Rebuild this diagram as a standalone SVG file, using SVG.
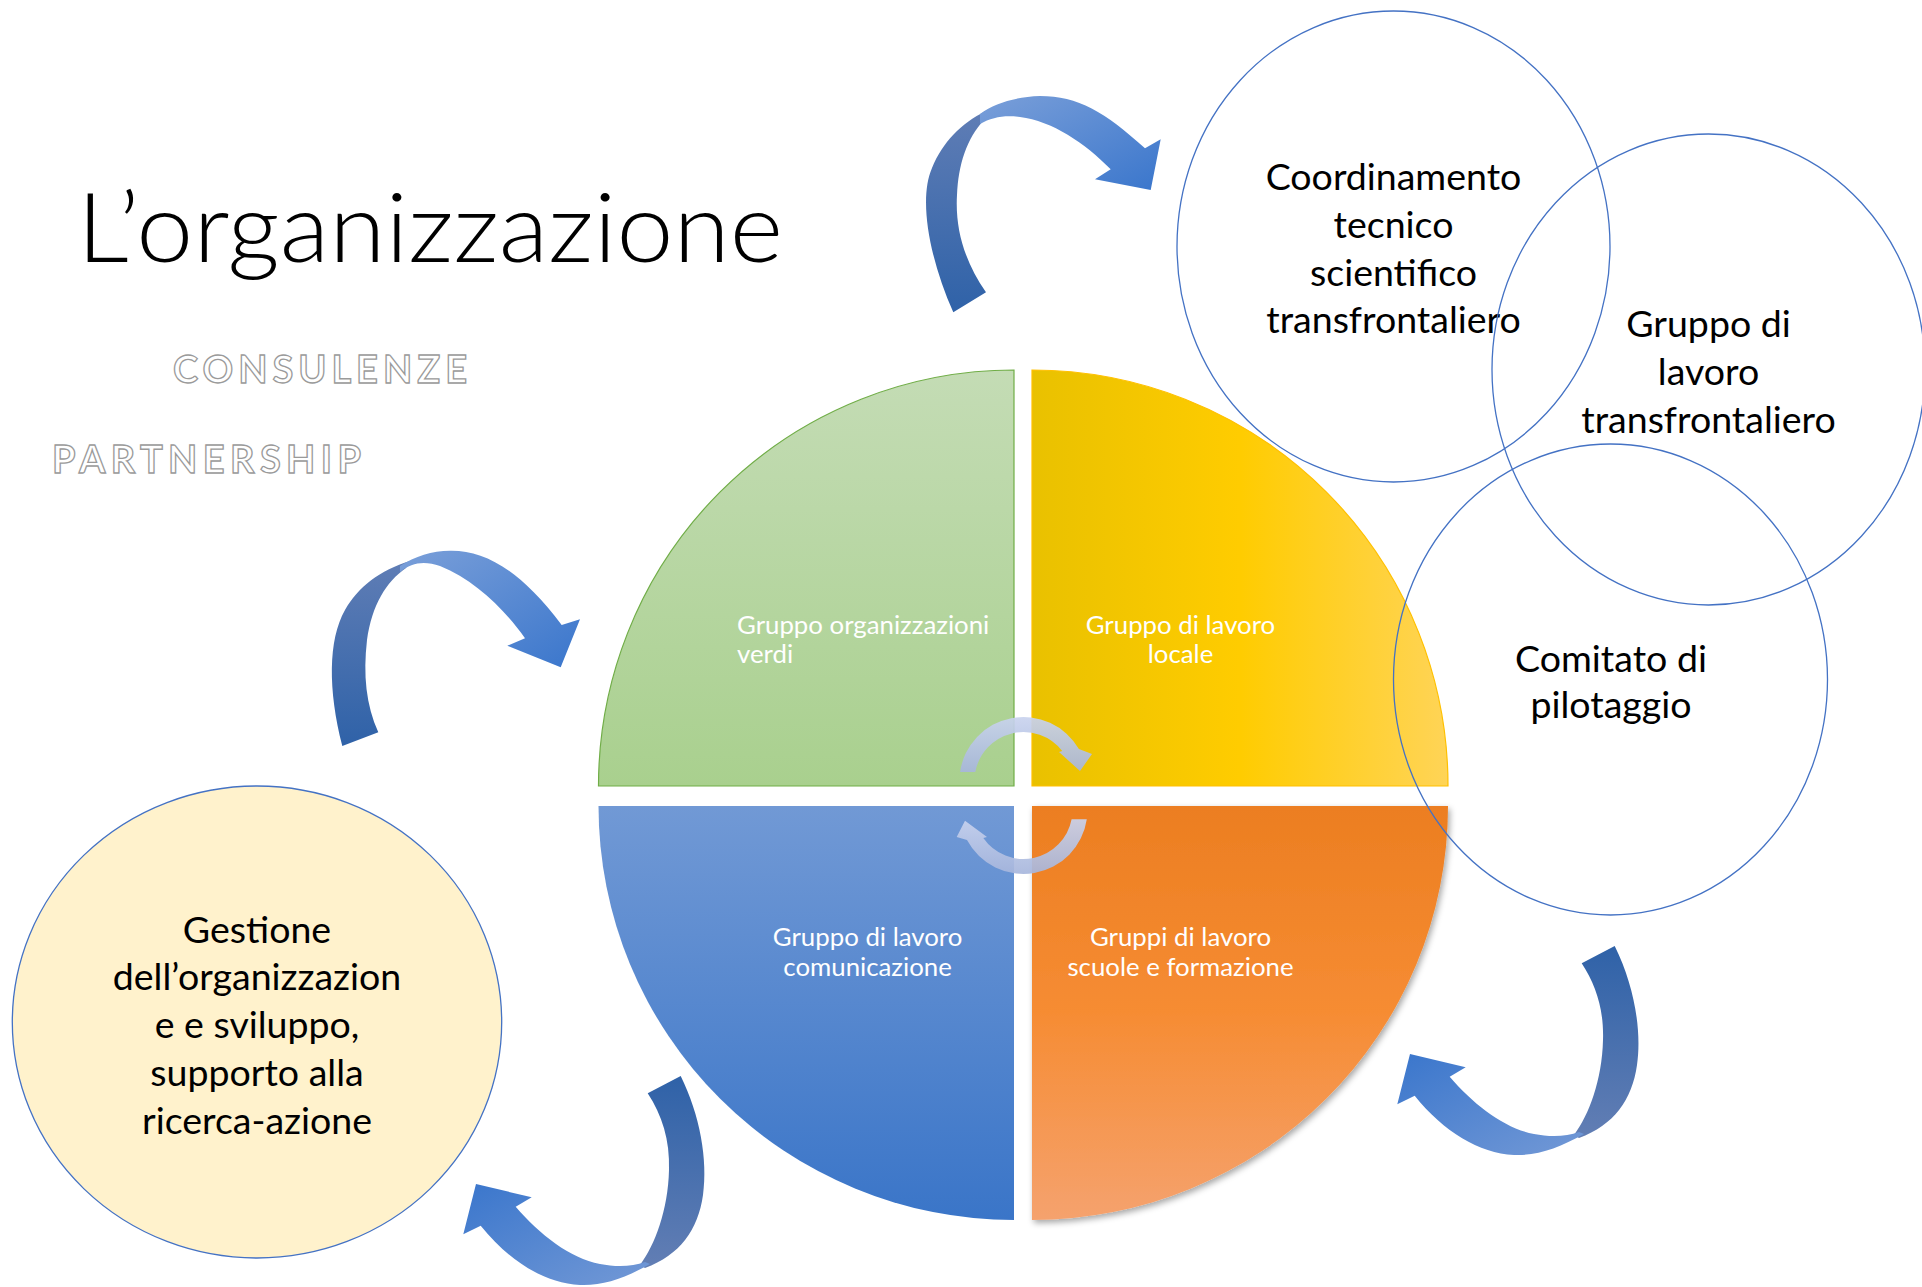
<svg xmlns="http://www.w3.org/2000/svg" width="1922" height="1287" viewBox="0 0 1922 1287">
<defs>
<style>
.t{font-family:Lato,"Open Sans","Liberation Sans",sans-serif;fill:#000;}
.big{font-size:37.5px;text-anchor:middle;}
.q{font-family:Lato,"Open Sans","Liberation Sans",sans-serif;font-size:25.8px;fill:#fff;}
.ring{fill:none;stroke:#4472C4;stroke-width:1.3;}
.emb{font-family:Lato,"Open Sans","Liberation Sans",sans-serif;font-weight:bold;fill:#fff;stroke:#9a9a9a;stroke-width:1.3;font-size:38px;}
</style>
<linearGradient id="gGreen" x1="0" y1="0" x2="0" y2="1"><stop offset="0" stop-color="#C4DCB5"/><stop offset="1" stop-color="#A9D08E"/></linearGradient>
<linearGradient id="gYellow" x1="0" y1="0" x2="1" y2="0"><stop offset="0" stop-color="#E9C100"/><stop offset="0.5" stop-color="#FFCC00"/><stop offset="1" stop-color="#FFD457"/></linearGradient>
<linearGradient id="gBlue" x1="0" y1="0" x2="0" y2="1"><stop offset="0" stop-color="#7199D5"/><stop offset="1" stop-color="#3A75C8"/></linearGradient>
<linearGradient id="gOrange" x1="0" y1="0" x2="0" y2="1"><stop offset="0" stop-color="#EC7E21"/><stop offset="0.5" stop-color="#F68C33"/><stop offset="1" stop-color="#F5A26E"/></linearGradient>
<linearGradient id="gBackUp" x1="0" y1="1" x2="0" y2="0"><stop offset="0" stop-color="#2F62A8"/><stop offset="1" stop-color="#5F7DB5"/></linearGradient>
<linearGradient id="gBackDown" x1="0" y1="0" x2="0" y2="1"><stop offset="0" stop-color="#2F62A8"/><stop offset="1" stop-color="#627EB4"/></linearGradient>
<linearGradient id="gFront1" x1="0" y1="0" x2="1" y2="1"><stop offset="0" stop-color="#7A9FD9"/><stop offset="1" stop-color="#3A76CC"/></linearGradient>
<linearGradient id="gFront2" x1="1" y1="1" x2="0" y2="0"><stop offset="0" stop-color="#7399D6"/><stop offset="1" stop-color="#3A76CC"/></linearGradient>
<linearGradient id="gSmall" x1="0" y1="0" x2="0" y2="1"><stop offset="0" stop-color="#C9D3EE"/><stop offset="1" stop-color="#A7B6DC"/></linearGradient>
<filter id="shadow" x="-10%" y="-10%" width="125%" height="125%"><feDropShadow dx="2" dy="3" stdDeviation="3" flood-color="#000" flood-opacity="0.35"/></filter>
</defs>
<rect width="1922" height="1287" fill="#fff"/>

<g id="title">
<text class="t" x="77" y="262" font-size="96" font-weight="300" textLength="706" lengthAdjust="spacingAndGlyphs">L’organizzazione</text>
</g>
<g id="consulenze"><text class="emb" x="173" y="383" textLength="294" lengthAdjust="spacing">CONSULENZE</text></g>
<g id="partnership"><text class="emb" x="52" y="473" textLength="309" lengthAdjust="spacing">PARTNERSHIP</text></g>

<g id="q-verdi">
<path d="M1014,786 L598.5,786 A415.5,416 0 0 1 1014,370 Z" fill="url(#gGreen)" stroke="#70AD47" stroke-width="1.2"/>
<text class="q" x="737" y="634">Gruppo organizzazioni</text>
<text class="q" x="737" y="663">verdi</text>
</g>
<g id="q-locale">
<path d="M1032,786 L1032,370 A416,416 0 0 1 1448,786 Z" fill="url(#gYellow)" stroke="#FFC000" stroke-width="1.2"/>
<text class="q" x="1180.5" y="634" text-anchor="middle">Gruppo di lavoro</text>
<text class="q" x="1180.5" y="663" text-anchor="middle">locale</text>
</g>
<g id="q-comunicazione">
<path d="M1014,806 L598.5,806 A415.5,414 0 0 0 1014,1220 Z" fill="url(#gBlue)"/>
<text class="q" x="867.6" y="946" text-anchor="middle">Gruppo di lavoro</text>
<text class="q" x="867.6" y="976" text-anchor="middle">comunicazione</text>
</g>
<g id="q-scuole">
<path d="M1032,806 L1448,806 A416,414 0 0 1 1032,1220 Z" fill="url(#gOrange)" filter="url(#shadow)"/>
<text class="q" x="1180.5" y="946" text-anchor="middle">Gruppi di lavoro</text>
<text class="q" x="1180.5" y="976" text-anchor="middle">scuole e formazione</text>
</g>

<g id="coordinamento">
<ellipse class="ring" cx="1393.5" cy="246.5" rx="216.5" ry="235.5"/>
<text class="t big" x="1393.5" y="190">Coordinamento</text>
<text class="t big" x="1393.5" y="238">tecnico</text>
<text class="t big" x="1393.5" y="286">scientifico</text>
<text class="t big" x="1393.5" y="333">transfrontaliero</text>
</g>
<g id="gruppo-transfrontaliero">
<ellipse class="ring" cx="1708.5" cy="369.5" rx="216.5" ry="235.5"/>
<text class="t big" x="1708.5" y="337">Gruppo di</text>
<text class="t big" x="1708.5" y="385">lavoro</text>
<text class="t big" x="1708.5" y="433">transfrontaliero</text>
</g>
<g id="comitato">
<ellipse class="ring" cx="1610.5" cy="679.5" rx="217" ry="235.5"/>
<text class="t big" x="1611" y="672">Comitato di</text>
<text class="t big" x="1611" y="718">pilotaggio</text>
</g>
<g id="gestione">
<ellipse cx="257" cy="1022" rx="244.7" ry="236" fill="#FFF2CC" stroke="#4472C4" stroke-width="1.3"/>
<text class="t big" x="257" y="943">Gestione</text>
<text class="t big" x="257" y="990">dell’organizzazion</text>
<text class="t big" x="257" y="1038">e e sviluppo,</text>
<text class="t big" x="257" y="1086">supporto alla</text>
<text class="t big" x="257" y="1134">ricerca-azione</text>
</g>

<g id="connectors">
<g id="arrow-top">
<path d="M953.3,312.3 C930,260 918,200 932,168 C943,142 960,124 986,111 L984,120 C967,138 958,165 957,195 C955,230 965,262 986,292.3 Z" fill="url(#gBackUp)"/>
<path d="M980,114 C995,103 1015,97 1040,96 C1078,96 1105,112 1145,148.3 L1160.7,139.3 L1150.7,190 L1095,179.3 L1110.7,169.3 C1085,143 1052,121 1020,117 C1005,115 992,117 980,124 Z" fill="url(#gFront1)"/>
</g>
<g id="arrow-left">
<path d="M342.3,746 C328,690 328,640 345,610 C358,587 380,570 410,561 L406,568 C386,582 372,605 367,640 C363,675 366,705 378.3,732.3 Z" fill="url(#gBackUp)"/>
<path d="M400,566 C415,556 432,551 450,550.7 C485,550 520,570 561.7,625 L580,619.3 L560.7,667.3 L507.3,645.7 L525,638.3 C505,610 475,580 440,566 C425,561 412,562 400,572 Z" fill="url(#gFront1)"/>
</g>
<g id="arrow-bottom-left">
<path d="M647.7,1093.3 L680.7,1076 C700,1115 708,1160 703,1195 C698,1230 680,1255 645,1268 L640,1265 C655,1245 668,1210 669,1170 C670,1140 662,1115 647.7,1093.3 Z" fill="url(#gBackDown)"/>
<path d="M650,1264 C625,1278 603,1286 580,1285 C545,1283 510,1262 480.7,1225.7 L463.3,1234.3 L476,1184 L531.7,1197.3 L515.7,1206.7 C540,1235 570,1258 600,1264 C615,1267 632,1267 645,1262 Z" fill="url(#gFront2)"/>
</g>
<g id="arrow-bottom-right" transform="translate(934,-130)">
<path d="M647.7,1093.3 L680.7,1076 C700,1115 708,1160 703,1195 C698,1230 680,1255 645,1268 L640,1265 C655,1245 668,1210 669,1170 C670,1140 662,1115 647.7,1093.3 Z" fill="url(#gBackDown)"/>
<path d="M650,1264 C625,1278 603,1286 580,1285 C545,1283 510,1262 480.7,1225.7 L463.3,1234.3 L476,1184 L531.7,1197.3 L515.7,1206.7 C540,1235 570,1258 600,1264 C615,1267 632,1267 645,1262 Z" fill="url(#gFront2)"/>
</g>
<path id="cycle-top" d="M960.1,772 A64,64 0 0 1 1078.9,749 L1092,754 L1080,771 L1059,752 L1062.2,751 A49,49 0 0 0 975.3,772 Z" fill="url(#gSmall)" opacity="0.92"/>
<path id="cycle-bottom" d="M1086.8,819.3 A64,64 0 0 1 967,840 L956.7,837 L965,820.7 L987,837 L983.3,838 A49,49 0 0 0 1071.6,819.3 Z" fill="url(#gSmall)" opacity="0.92"/>
</g>
</svg>
